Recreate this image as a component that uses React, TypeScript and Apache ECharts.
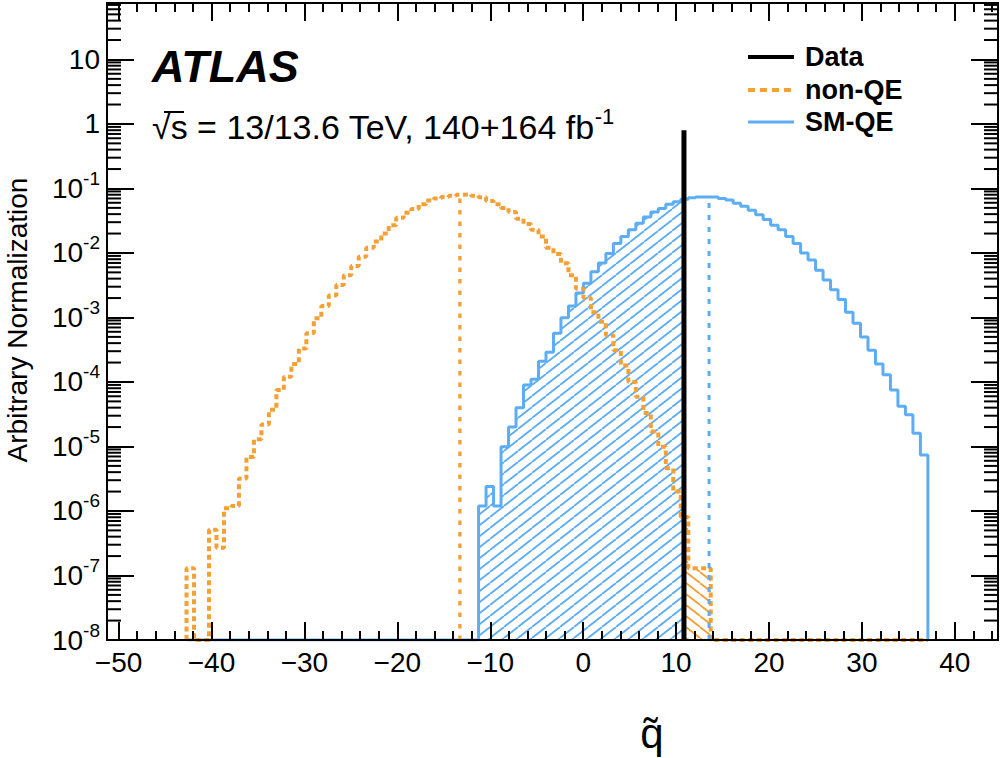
import { useEffect, useRef } from "react";
import * as echarts from "echarts";

const FONT = '"Liberation Sans", Arial, Helvetica, sans-serif';
const ORANGE = "#f4a035";
const BLUE = "#5dadf4";

// q-tilde binning and axis ranges
const BIN_LO = -42.69;
const BIN_W = 0.806;
const HIST_BINS = 99;
const X_MIN = -51.25;
const X_MAX = 44.65;
const Y_MIN = 1e-8;
const Y_MAX = 75;

// non-QE pseudo-experiments, bins 0..69 (0 = empty bin)
const NON_QE = [
  1.3e-7, 0, 0, 5.1e-7, 2.7e-7, 1.1e-6, 1.2e-6, 3.2e-6, 6.9e-6, 1.3e-5,
  2.2e-5, 3.7e-5, 7.5e-5, 1.2e-4, 1.9e-4, 3.3e-4, 5.7e-4, 9.7e-4, 1.5e-3, 2.2e-3,
  3.2e-3, 4.5e-3, 6.3e-3, 8.7e-3, 1.2e-2, 1.5e-2, 2.0e-2, 2.7e-2, 3.5e-2, 4.2e-2,
  4.8e-2, 5.7e-2, 6.5e-2, 7.0e-2, 7.4e-2, 7.7e-2, 8.0e-2, 8.1e-2, 7.7e-2, 7.3e-2,
  6.4e-2, 5.7e-2, 5.0e-2, 4.3e-2, 3.4e-2, 2.8e-2, 2.3e-2, 1.8e-2, 1.2e-2, 9.6e-3,
  6.9e-3, 4.5e-3, 2.8e-3, 2.0e-3, 1.2e-3, 8.6e-4, 5.3e-4, 3.1e-4, 1.8e-4, 1.0e-4,
  5.9e-5, 3.3e-5, 1.7e-5, 9.9e-6, 4.6e-6, 2.0e-6, 8.1e-7, 1.3e-7, 1.3e-7, 1.3e-7,
];

// SM-QE pseudo-experiments, starting at bin 39
const SM_QE_FIRST = 39;
const SM_QE = [
  1.2e-6, 2.4e-6, 1.2e-6, 9.9e-6, 2.0e-5, 4.0e-5, 9.0e-5, 1.1e-4, 2.1e-4, 2.9e-4,
  5.7e-4, 9.9e-4, 1.5e-3, 2.4e-3, 3.4e-3, 5.1e-3, 7.0e-3, 9.8e-3, 1.4e-2, 1.8e-2,
  2.3e-2, 2.9e-2, 3.6e-2, 4.3e-2, 4.9e-2, 5.7e-2, 6.2e-2, 6.8e-2, 7.2e-2, 7.4e-2,
  7.4e-2, 7.4e-2, 7.0e-2, 6.6e-2, 5.9e-2, 5.3e-2, 4.6e-2, 3.9e-2, 3.3e-2, 2.7e-2,
  2.3e-2, 1.8e-2, 1.4e-2, 1.0e-2, 7.8e-3, 5.4e-3, 3.8e-3, 2.7e-3, 1.9e-3, 1.2e-3,
  8.1e-4, 5.0e-4, 3.1e-4, 1.9e-4, 1.3e-4, 7.5e-5, 4.2e-5, 3.1e-5, 1.6e-5, 7.4e-6,
];

const DATA_Q = 10.85;
const DATA_TOP = 0.8;
const NON_QE_MEDIAN = -13.27;
const SM_QE_MEDIAN = 13.55;

const LEGEND_LABELS = ["Data", "non-QE", "SM-QE"];

const edge = (k: number) => BIN_LO + k * BIN_W;
const binOf = (x: number) => Math.floor((x - BIN_LO) / BIN_W);
const lift = (v: number) => (v > 0 ? v : Y_MIN);

// step outline over the full histogram range, empty bins sit on the floor
const stepPoints = (vals: number[], first: number) => [
  [edge(0), Y_MIN],
  ...vals.map((v, i) => [edge(first + i), lift(v)]),
  [edge(first + vals.length), Y_MIN],
  [edge(HIST_BINS), Y_MIN],
];

const hatch = (color: string, rising: boolean) => {
  const w = 14;
  const h = 11;
  const c = document.createElement("canvas");
  c.width = w;
  c.height = h;
  const ctx = c.getContext("2d")!;
  ctx.strokeStyle = color;
  ctx.lineWidth = 1.8;
  ctx.beginPath();
  for (let i = -1; i <= 1; i++) {
    if (rising) {
      ctx.moveTo(i * w, h);
      ctx.lineTo(i * w + w, 0);
    } else {
      ctx.moveTo(i * w, 0);
      ctx.lineTo(i * w + w, h);
    }
  }
  ctx.stroke();
  return { image: c, repeat: "repeat" };
};

const xLabel = (v: number) => {
  if (Math.abs(v % 10) > 1e-6) return "";
  return v < 0 ? `\u2212${-v}` : `${v}`;
};

const yLabel = (v: number) => {
  const e = Math.round(Math.log10(v));
  if (e === 0) return "{b|1}";
  if (e === 1) return "{b|10}";
  return `{b|10}{s|${e}}`;
};

const App = () => {
  const ref = useRef<HTMLDivElement>(null);

  useEffect(() => {
    if (!ref.current) return;
    const chart = echarts.init(ref.current, null, { renderer: "svg" });

    const dataBin = binOf(DATA_Q);

    const blueHatch: number[][] = [];
    for (let k = SM_QE_FIRST; k <= dataBin; k++) {
      blueHatch.push([edge(k), SM_QE[k - SM_QE_FIRST]]);
    }
    blueHatch.push([DATA_Q, SM_QE[dataBin - SM_QE_FIRST]]);

    const orangeHatch: number[][] = [[DATA_Q, NON_QE[dataBin]]];
    for (let k = dataBin + 1; k < NON_QE.length; k++) {
      orangeHatch.push([edge(k), NON_QE[k]]);
    }
    orangeHatch.push([edge(NON_QE.length), NON_QE[NON_QE.length - 1]]);

    const yMinor: number[][] = [];
    for (let e = -8; e <= 1; e++) {
      for (let m = 2; m <= 9; m++) {
        const v = m * Math.pow(10, e);
        if (v < Y_MAX) yMinor.push([X_MIN, v]);
      }
    }

    const tickStyle = { color: "#000", width: 2 };
    const xAxisBase = {
      type: "value",
      min: X_MIN,
      max: X_MAX,
      splitNumber: 10,
      z: 10,
      axisLine: { show: true, onZero: false, lineStyle: tickStyle },
      axisTick: { show: true, inside: true, length: 18, lineStyle: tickStyle },
      minorTick: { show: true, splitNumber: 5, length: 9, lineStyle: tickStyle },
      splitLine: { show: false },
    };
    const yAxisBase = {
      type: "log",
      logBase: 10,
      min: Y_MIN,
      max: Y_MAX,
      z: 10,
      axisLine: { show: true, onZero: false, lineStyle: tickStyle },
      axisTick: { show: true, inside: true, length: 27, lineStyle: tickStyle },
      minorTick: { show: false },
      splitLine: { show: false },
    };

    const lineBase = {
      type: "line",
      symbol: "none",
      silent: true,
      xAxisIndex: 0,
      yAxisIndex: 0,
    };

    chart.setOption({
      animation: false,
      textStyle: { fontFamily: FONT },
      grid: { left: 107, right: 2, top: 3, bottom: 118 },
      xAxis: [
        {
          ...xAxisBase,
          position: "bottom",
          axisLabel: {
            show: true,
            fontSize: 28,
            color: "#000",
            fontFamily: FONT,
            margin: 8,
            showMinLabel: false,
            showMaxLabel: false,
            formatter: xLabel,
          },
        },
        { ...xAxisBase, position: "top", axisLabel: { show: false } },
      ],
      yAxis: [
        {
          ...yAxisBase,
          position: "left",
          axisLabel: {
            show: true,
            color: "#000",
            margin: 7,
            showMaxLabel: false,
            formatter: yLabel,
            rich: {
              b: { fontSize: 28, fontFamily: FONT, color: "#000" },
              s: {
                fontSize: 19,
                fontFamily: FONT,
                color: "#000",
                padding: [0, 0, 20, 0],
              },
            },
          },
        },
        { ...yAxisBase, position: "right", axisLabel: { show: false } },
      ],
      series: [
        {
          ...lineBase,
          name: "SM-QE hatch",
          step: "end",
          data: blueHatch,
          lineStyle: { opacity: 0 },
          areaStyle: { origin: "start", opacity: 1, color: hatch(BLUE, true) },
          z: 1,
        },
        {
          ...lineBase,
          name: "non-QE hatch",
          step: "end",
          data: orangeHatch,
          lineStyle: { opacity: 0 },
          areaStyle: { origin: "start", opacity: 1, color: hatch(ORANGE, false) },
          z: 1,
        },
        {
          ...lineBase,
          name: "SM-QE",
          step: "end",
          data: stepPoints(SM_QE, SM_QE_FIRST),
          lineStyle: { color: BLUE, width: 3 },
          z: 2,
        },
        {
          ...lineBase,
          name: "non-QE",
          step: "end",
          data: stepPoints(NON_QE, 0),
          lineStyle: { color: ORANGE, width: 4, type: [5, 3.5] },
          z: 3,
        },
        {
          ...lineBase,
          name: "non-QE median",
          data: [
            [NON_QE_MEDIAN, Y_MIN],
            [NON_QE_MEDIAN, NON_QE[binOf(NON_QE_MEDIAN)]],
          ],
          lineStyle: { color: ORANGE, width: 3.3, type: [4.5, 7] },
          z: 3,
        },
        {
          ...lineBase,
          name: "SM-QE median",
          data: [
            [SM_QE_MEDIAN, Y_MIN],
            [SM_QE_MEDIAN, SM_QE[binOf(SM_QE_MEDIAN) - SM_QE_FIRST]],
          ],
          lineStyle: { color: BLUE, width: 3, type: [5, 7] },
          z: 3,
        },
        {
          ...lineBase,
          name: "Data",
          data: [
            [DATA_Q, Y_MIN],
            [DATA_Q, DATA_TOP],
          ],
          lineStyle: { color: "#000", width: 5 },
          z: 4,
        },
        {
          type: "custom",
          name: "minor ticks",
          coordinateSystem: "cartesian2d",
          silent: true,
          clip: false,
          z: 10,
          data: yMinor,
          renderItem: (params: any, api: any) => {
            const cs = params.coordSys;
            const y = api.coord([X_MIN, api.value(1)])[1];
            const st = { stroke: "#000", lineWidth: 2 };
            return {
              type: "group",
              children: [
                { type: "line", shape: { x1: cs.x, y1: y, x2: cs.x + 14, y2: y }, style: st },
                {
                  type: "line",
                  shape: { x1: cs.x + cs.width - 14, y1: y, x2: cs.x + cs.width, y2: y },
                  style: st,
                },
              ],
            };
          },
        },
      ],
      graphic: [
        {
          type: "text",
          x: 152,
          y: 66,
          style: {
            text: "ATLAS",
            font: `italic bold 45px ${FONT}`,
            fill: "#000",
            textVerticalAlign: "middle",
          },
        },
        {
          type: "text",
          x: 152,
          y: 127,
          style: {
            text: "\u221as = 13/13.6 TeV, 140+164 fb{s|-1}",
            font: `34px ${FONT}`,
            fill: "#000",
            textVerticalAlign: "middle",
            rich: { s: { font: `22px ${FONT}`, padding: [0, 0, 22, 0] } },
          },
        },
        // bar of the square root over the s
        { type: "line", shape: { x1: 164, y1: 112, x2: 184, y2: 112 }, style: { stroke: "#000", lineWidth: 2 } },
        { type: "line", shape: { x1: 748, y1: 57, x2: 794, y2: 57 }, style: { stroke: "#000", lineWidth: 4 } },
        {
          type: "line",
          shape: { x1: 748, y1: 90, x2: 794, y2: 90 },
          style: { stroke: ORANGE, lineWidth: 4, lineDash: [7, 5] },
        },
        { type: "line", shape: { x1: 748, y1: 122, x2: 794, y2: 122 }, style: { stroke: BLUE, lineWidth: 3 } },
        ...LEGEND_LABELS.map((t, i) => ({
          type: "text",
          x: 805,
          y: [57, 90, 122][i],
          style: {
            text: t,
            font: `bold 27px ${FONT}`,
            fill: "#000",
            textVerticalAlign: "middle",
          },
        })),
        {
          type: "text",
          x: 17,
          y: 320,
          rotation: Math.PI / 2,
          style: {
            text: "Arbitrary Normalization",
            font: `28px ${FONT}`,
            fill: "#000",
            textAlign: "center",
            textVerticalAlign: "middle",
          },
        },
        {
          type: "text",
          x: 652,
          y: 733,
          style: {
            text: "q\u0303",
            font: `42px ${FONT}`,
            fill: "#000",
            textAlign: "center",
            textVerticalAlign: "middle",
          },
        },
      ],
    });

    return () => chart.dispose();
  }, []);

  return (
    <div
      ref={ref}
      style={{ position: "fixed", left: 0, top: 0, width: 1000, height: 758, background: "#fff" }}
    />
  );
};

export default App;
